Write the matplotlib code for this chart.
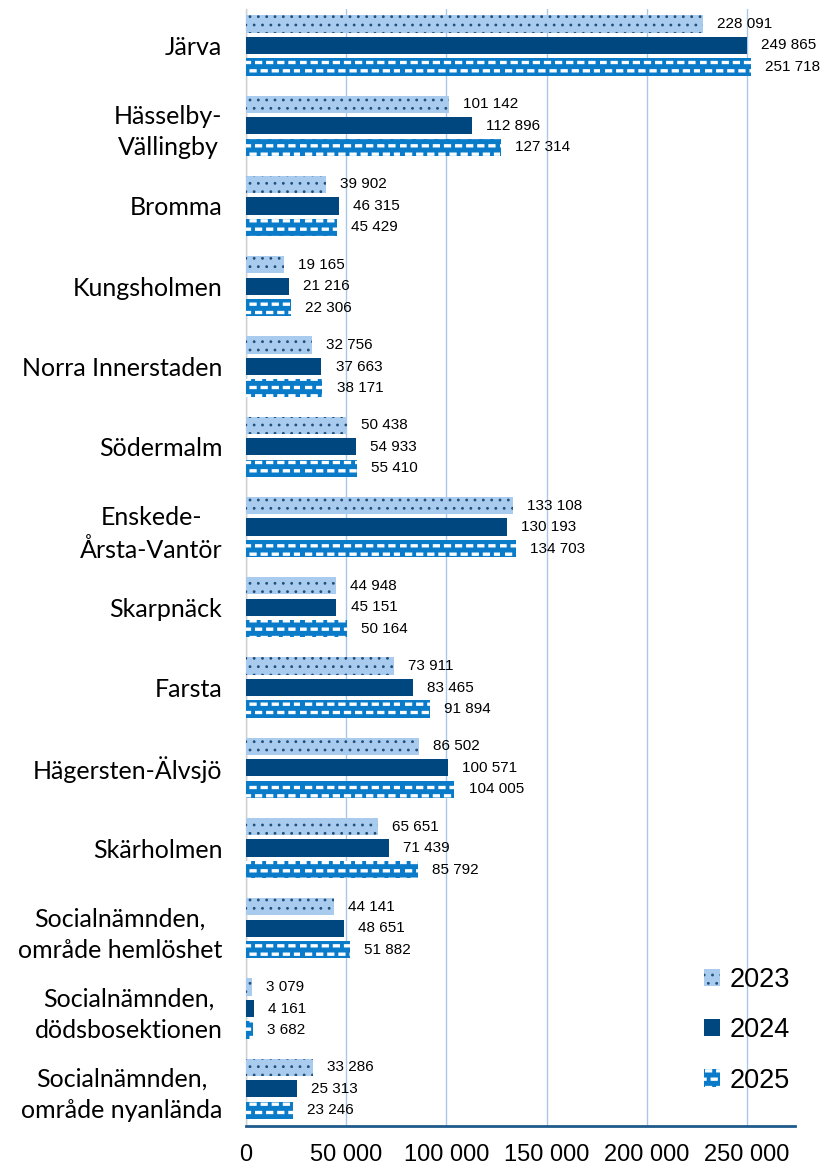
import matplotlib
matplotlib.use("Agg")
import matplotlib.pyplot as plt
import matplotlib.hatch as mhatch
from matplotlib.path import Path
import numpy as np

CATEGORIES = [
    "Järva",
    "Hässelby-\nVällingby",
    "Bromma",
    "Kungsholmen",
    "Norra Innerstaden",
    "Södermalm",
    "Enskede-\nÅrsta-Vantör",
    "Skarpnäck",
    "Farsta",
    "Hägersten-Älvsjö",
    "Skärholmen",
    "Socialnämnden,\nområde hemlöshet",
    "Socialnämnden,\ndödsbosektionen",
    "Socialnämnden,\nområde nyanlända",
]

VALUES_2023 = [228091, 101142, 39902, 19165, 32756, 50438, 133108, 44948,
               73911, 86502, 65651, 44141, 3079, 33286]
VALUES_2024 = [249865, 112896, 46315, 21216, 37663, 54933, 130193, 45151,
               83465, 100571, 71439, 48651, 4161, 25313]
VALUES_2025 = [251718, 127314, 45429, 22306, 38171, 55410, 134703, 50164,
               91894, 104005, 85792, 51882, 3682, 23246]

YEARS = ["2023", "2024", "2025"]


class DashedRows(mhatch.HatchPatternBase):
    """'-' drawn as staggered rows of short filled dashes (Excel style)."""

    def __init__(self, hatch, density):
        self.num_rows = int(hatch.count('-') * density)
        self.num_cols = int(self.num_rows * 0.75)
        self.num_vertices = self.num_rows * self.num_cols * 5

    def set_vertices_and_codes(self, vertices, codes):
        dy = 1.0 / self.num_rows
        dx = 1.0 / self.num_cols
        half_h = 0.011
        dash = dx * 0.55
        i = 0
        for r in range(self.num_rows):
            yc = (r + 0.5) * dy
            shift = (r % 2) * dx * 0.5
            for c in range(self.num_cols):
                x0 = c * dx + shift
                vertices[i:i + 5] = [(x0, yc - half_h), (x0 + dash, yc - half_h),
                                     (x0 + dash, yc + half_h), (x0, yc + half_h),
                                     (x0, yc - half_h)]
                codes[i:i + 5] = [Path.MOVETO, Path.LINETO, Path.LINETO,
                                  Path.LINETO, Path.CLOSEPOLY]
                i += 5


mhatch._hatch_types = [DashedRows if t is mhatch.HorizontalHatch else t
                       for t in mhatch._hatch_types]
plt.rcParams["hatch.linewidth"] = 0.8


def fmt(v):
    return f"{v:,.0f}".replace(",", " ")


fig = plt.figure(figsize=(8.31, 11.69), dpi=100)
ax = fig.add_axes([0.296, 0.037, 0.661, 0.955])

y = np.arange(len(CATEGORIES))
h = 0.215
step = 0.268

series = [
    (VALUES_2023, "#A8CBEE", "#1F4E79", "..", -step),
    (VALUES_2024, "#004780", "#004780", None, 0.0),
    (VALUES_2025, "#0A7BC8", "white", "--", step),
]

for (vals, face, edge, hatch, off), year in zip(series, YEARS):
    ax.barh(y + off, vals, height=h, color=face, edgecolor=edge,
            linewidth=0, hatch=hatch, label=year, zorder=3)
    for yi, v in zip(y + off, vals):
        ax.text(v + 7000, yi, fmt(v), va="center", ha="left",
                fontsize=11, family="Liberation Sans", zorder=4)

ax.set_ylim(13.46, -0.45)
ax.set_xlim(0, 274000)
ticks = np.arange(0, 250001, 50000)
ax.set_xticks(ticks)
ax.set_xticklabels([fmt(t) for t in ticks], family="Liberation Sans", fontsize=17)
ax.set_yticks(y)
ax.set_yticklabels(CATEGORIES, fontsize=18, family="Lato",
                   linespacing=1.45, ha="right", multialignment="center")
ax.tick_params(axis="y", length=0, pad=17)
ax.tick_params(axis="x", length=0, pad=13.5)

ax.grid(axis="x", color="#A9C8E8", linewidth=1.0, zorder=0)
ax.set_axisbelow(True)
for s in ["top", "right"]:
    ax.spines[s].set_visible(False)
ax.spines["left"].set_color("#D0D0D0")
ax.spines["left"].set_linewidth(1.0)
ax.spines["bottom"].set_color("#1F5A8C")
ax.spines["bottom"].set_linewidth(2.0)

ax.legend(loc="lower right", bbox_to_anchor=(1.035, 0.007), frameon=False,
          prop={"family": "Liberation Sans", "size": 19.5},
          handlelength=0.6, handleheight=0.6, handletextpad=0.35,
          labelspacing=0.9)

fig.savefig("out.png", dpi=100)
